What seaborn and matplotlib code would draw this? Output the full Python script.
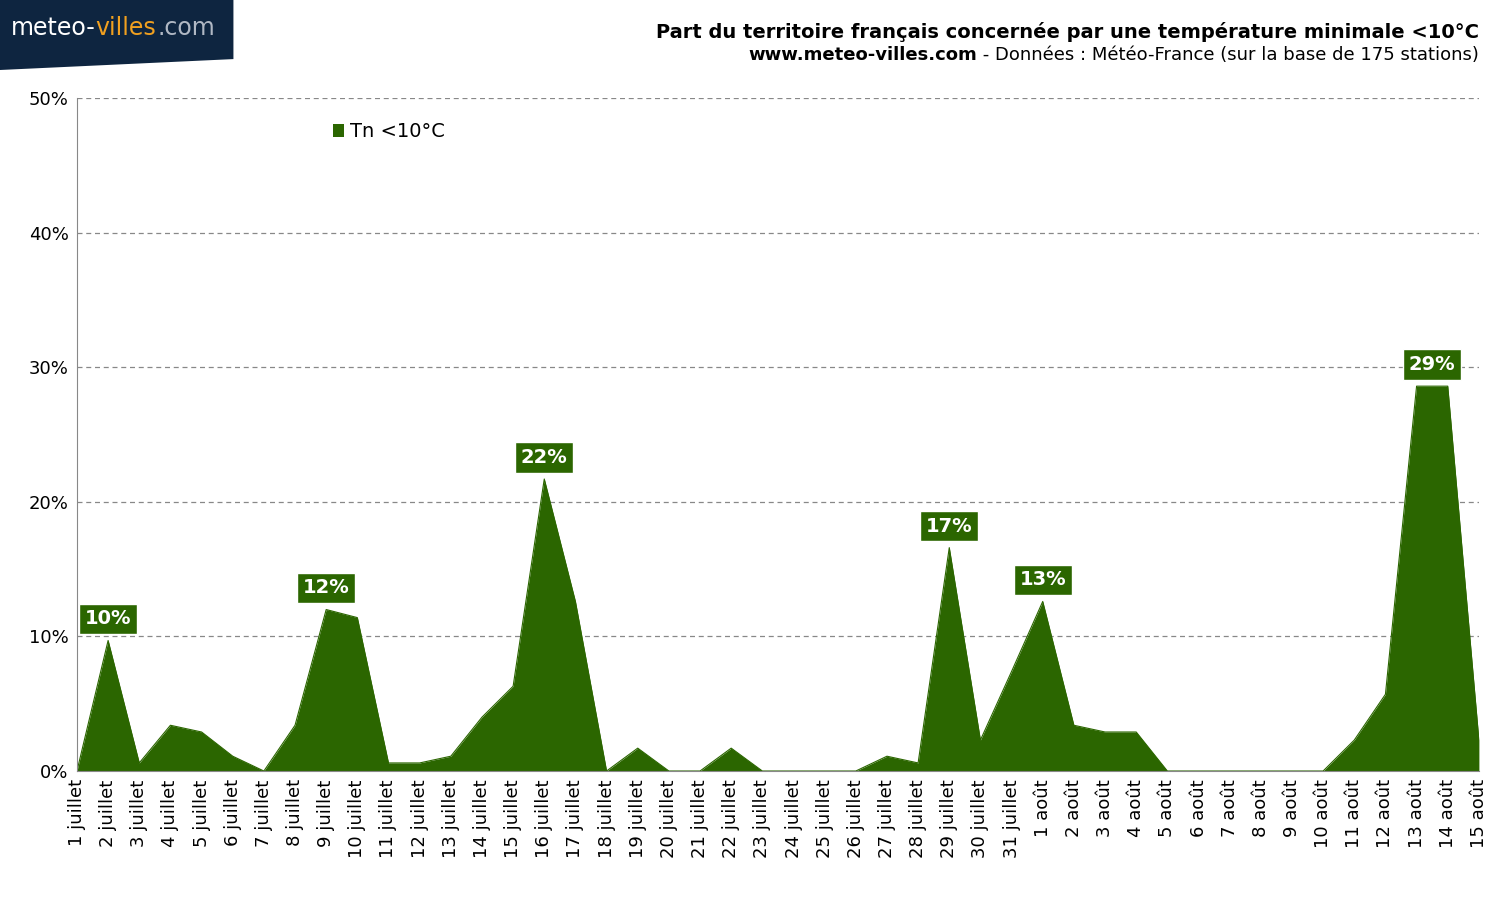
import numpy as np
import pandas as pd
import seaborn as sns
import matplotlib.pyplot as plt
from matplotlib.patches import Polygon

# data (percentage of stations with Tn < 10°C)
days = [f"{d} juillet" for d in range(1, 32)] + [f"{d} août" for d in range(1, 16)]
values = [0, 9.7, 0.6, 3.4, 2.9, 1.1, 0, 3.4, 12.0, 11.4,
          0.6, 0.6, 1.1, 4.0, 6.3, 21.7, 12.6, 0, 1.7, 0,
          0, 1.7, 0, 0, 0, 0, 1.1, 0.6, 16.6, 2.3,
          7.4, 12.6, 3.4, 2.9, 2.9, 0, 0, 0, 0, 0,
          0, 2.3, 5.7, 28.6, 28.6, 2.3]
peak_pos = [1, 8, 15, 28, 31, 43.5]
peak_labels = ["10%", "12%", "22%", "17%", "13%", "29%"]
peak_vals = [9.7, 12.0, 21.7, 16.6, 12.6, 28.6]

green = "#2b6600"
df = pd.DataFrame({"x": np.arange(len(days)), "v": values})

sns.set_style("white")
plt.rcParams["text.color"] = "black"
plt.rcParams["xtick.color"] = "black"
plt.rcParams["ytick.color"] = "black"
fig = plt.figure(figsize=(15.06, 9.09), dpi=100)
ax = fig.add_axes([0.0511, 0.1518, 0.9309, 0.7402])

sns.lineplot(data=df, x="x", y="v", color=green, linewidth=0.8, ax=ax)
ax.fill_between(df["x"], df["v"], color=green, linewidth=0, label="Tn <10°C")

ax.set_xlim(0, len(days) - 1)
ax.set_ylim(0, 50)
ax.set_yticks(range(0, 51, 10))
ax.set_yticklabels([f"{t}%" for t in range(0, 51, 10)], fontsize=13)
ax.set_xticks(df["x"])
ax.set_xticklabels(days, rotation=90, fontsize=13)
ax.set_xlabel("")
ax.set_ylabel("")
for t in range(10, 51, 10):
    ax.axhline(t, color="#888888", linestyle=(0, (4, 3)), linewidth=0.9, zorder=0)
for s in ["top", "right"]:
    ax.spines[s].set_visible(False)
ax.spines["left"].set_color("#888888")
ax.spines["bottom"].set_color("#888888")
ax.tick_params(axis="both", length=0, pad=6)

for x, lab, v in zip(peak_pos, peak_labels, peak_vals):
    ax.text(x, v + 0.9, lab, ha="center", va="bottom", color="white", fontsize=14,
            fontweight="bold",
            bbox=dict(boxstyle="square,pad=0.3", fc=green, ec="white"))

ax.legend(loc="upper left", bbox_to_anchor=(0.17, 0.99), frameon=False, fontsize=14,
          handlelength=0.6, handleheight=0.6, handletextpad=0.3)

fig.text(0.982, 0.958, "Part du territoire français concernée par une température minimale <10°C",
         ha="right", fontsize=14, fontweight="bold")
t1 = fig.text(0.982, 0.934, " - Données : Météo-France (sur la base de 175 stations)",
              ha="right", fontsize=13)
fig.canvas.draw()
bb = t1.get_window_extent()
fig.text(bb.x0 / fig.bbox.width, 0.934, "www.meteo-villes.com", ha="right",
         fontsize=13, fontweight="bold")

# logo
fig.patches.append(Polygon([[0, 1], [0.155, 1], [0.155, 0.935], [0, 0.923]],
                           closed=True, transform=fig.transFigure, fc="#0e2540", ec="none"))
fig.text(0.007, 0.969, "meteo-", color="white", fontsize=17, va="center")
fig.text(0.063, 0.969, "villes", color="#f0a020", fontsize=17, va="center")
fig.text(0.1045, 0.969, ".com", color="#b0b8c4", fontsize=17, va="center")

fig.savefig("out.png", dpi=100)
